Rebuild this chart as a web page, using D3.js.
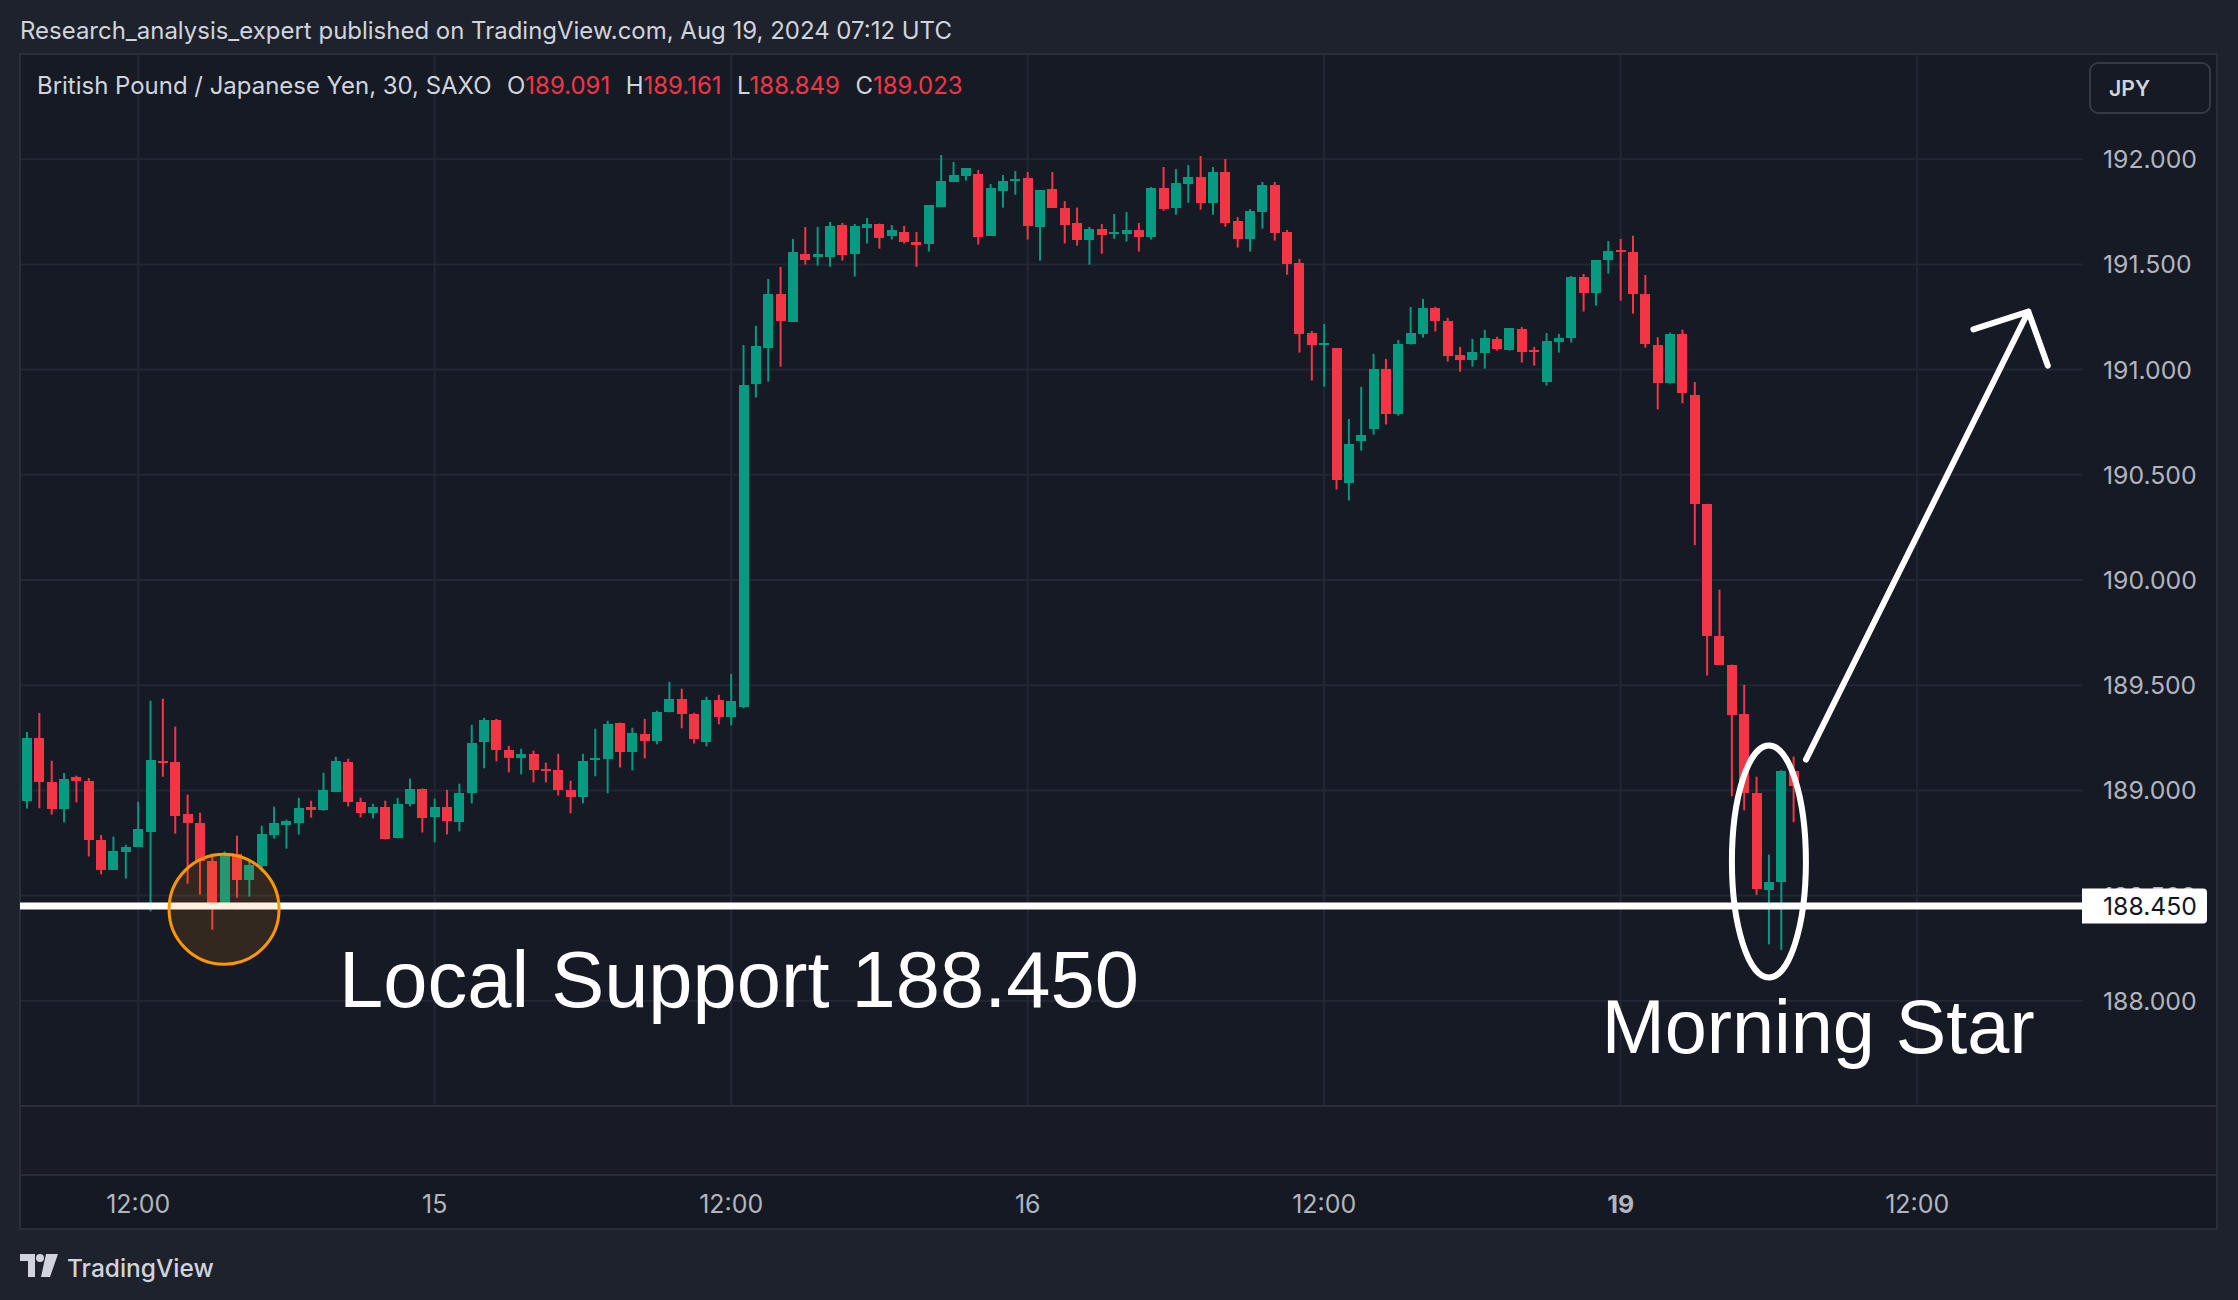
<!DOCTYPE html>
<html><head><meta charset="utf-8">
<script src="https://cdn.jsdelivr.net/npm/d3@7"></script>
<style>html,body{margin:0;padding:0;background:#1e222d;overflow:hidden}</style>
</head><body>
<svg id="chart" width="2238" height="1300"></svg>
<script>
// ---------------- DATA ----------------
const opens = [188.948,189.249,189.040,188.910,189.064,189.046,188.766,188.623,188.709,188.733,
188.800,189.141,189.136,188.889,188.847,188.666,188.457,188.699,188.576,188.642,
188.790,188.837,188.847,188.919,188.908,188.994,189.136,188.946,188.891,188.923,
188.772,188.933,189.008,188.872,188.923,188.848,188.986,189.228,189.336,189.193,
189.152,189.174,189.103,189.098,189.003,188.967,189.147,189.147,189.322,189.181,
189.269,189.233,189.371,189.436,189.364,189.228,189.431,189.347,189.398,190.933,
191.105,191.360,191.228,191.550,191.537,191.537,191.687,191.551,191.675,191.692,
191.637,191.654,191.607,191.599,191.774,191.893,191.922,191.930,191.637,191.850,
191.898,191.911,191.679,191.858,191.768,191.697,191.618,191.668,191.646,191.646,
191.664,191.632,191.863,191.770,191.884,191.915,191.793,191.939,191.706,191.622,
191.751,191.877,191.654,191.507,191.174,191.119,191.103,190.463,190.661,190.720,
191.003,190.791,191.124,191.171,191.293,191.231,191.070,191.048,191.081,191.146,
191.095,191.193,191.094,190.943,191.133,191.152,191.440,191.366,191.523,191.569,
191.560,191.360,191.118,190.934,191.170,190.880,190.360,189.735,189.598,189.365,
188.988,188.526,188.564,189.091];
const highs = [189.277,189.368,189.141,189.083,189.070,189.059,188.788,188.780,188.742,188.946,
189.426,189.436,189.303,188.980,188.894,188.699,188.709,188.785,188.671,188.832,
188.923,188.861,188.965,188.951,189.084,189.160,189.151,188.965,188.937,188.951,
188.965,189.056,189.010,188.961,189.003,189.032,189.312,189.345,189.340,189.212,
189.198,189.189,189.132,189.174,189.046,189.174,189.293,189.331,189.322,189.298,
189.340,189.379,189.516,189.483,189.369,189.445,189.455,189.554,191.117,191.208,
191.431,191.488,191.621,191.678,191.678,191.702,191.697,191.692,191.721,191.694,
191.687,191.683,191.654,191.782,192.020,191.987,191.958,191.949,191.882,191.925,
191.944,191.939,191.854,191.939,191.801,191.770,191.678,191.692,191.740,191.749,
191.697,191.868,191.963,191.953,191.972,192.015,191.963,192.001,191.725,191.763,
191.892,191.892,191.664,191.526,191.184,191.217,191.103,190.766,190.918,191.075,
191.051,191.141,191.298,191.336,191.298,191.246,191.108,191.146,191.189,191.156,
191.198,191.203,191.108,191.174,191.170,191.445,191.455,191.521,191.611,191.621,
191.636,191.450,191.154,191.176,191.190,190.941,190.362,189.954,189.598,189.502,
189.065,188.695,189.096,189.161];
const lows = [188.914,188.915,188.885,188.848,188.943,188.686,188.601,188.623,188.581,188.731,
188.425,189.065,188.794,188.557,188.505,188.338,188.440,188.490,188.495,188.614,
188.771,188.723,188.790,188.870,188.903,188.994,188.924,188.872,188.867,188.767,
188.772,188.924,188.800,188.753,188.791,188.805,188.938,189.105,189.138,189.086,
189.076,189.038,189.038,188.976,188.891,188.938,189.067,188.986,189.109,189.095,
189.152,189.219,189.371,189.295,189.223,189.209,189.314,189.309,189.390,190.867,
190.943,191.014,191.228,191.499,191.494,191.489,191.518,191.442,191.599,191.575,
191.618,191.599,191.489,191.561,191.774,191.893,191.898,191.594,191.637,191.770,
191.831,191.618,191.518,191.770,191.599,191.589,191.499,191.551,191.622,191.608,
191.561,191.618,191.755,191.736,191.793,191.760,191.736,191.679,191.580,191.561,
191.670,191.613,191.451,191.081,190.948,190.919,190.430,190.378,190.615,190.691,
190.739,190.781,191.119,191.152,191.181,191.038,190.990,191.014,191.005,191.090,
191.090,191.033,191.019,190.924,191.081,191.128,191.276,191.304,191.456,191.328,
191.266,191.104,190.811,190.934,190.840,190.165,189.546,189.596,188.972,188.905,
188.504,188.268,188.242,188.849];
const closes = [189.249,189.038,188.910,189.054,189.043,188.762,188.620,188.714,188.733,188.818,
189.146,189.128,188.880,188.843,188.663,188.457,188.690,188.576,188.647,188.794,
188.847,188.856,188.918,188.908,189.003,189.141,188.943,188.891,188.923,188.767,
188.937,189.008,188.867,188.923,188.853,188.989,189.227,189.336,189.190,189.152,
189.174,189.095,189.095,189.000,188.971,189.141,189.155,189.317,189.181,189.274,
189.233,189.374,189.436,189.361,189.242,189.431,189.347,189.426,190.927,191.113,
191.360,191.233,191.559,191.523,191.550,191.683,191.546,191.683,191.692,191.627,
191.664,191.608,191.594,191.782,191.896,191.925,191.958,191.632,191.863,191.896,
191.906,191.684,191.854,191.770,191.689,191.618,191.668,191.641,191.654,191.664,
191.632,191.863,191.765,191.887,191.915,191.793,191.939,191.698,191.622,191.754,
191.877,191.651,191.504,191.171,191.119,191.127,190.473,190.647,190.690,191.003,
190.791,191.122,191.174,191.293,191.233,191.067,191.048,191.084,191.151,191.100,
191.198,191.086,191.086,191.136,191.151,191.440,191.366,191.521,191.564,191.561,
191.358,191.120,190.934,191.170,190.887,190.360,189.733,189.596,189.356,188.986,
188.531,188.567,189.091,189.023];

const timeTickBars   = [9, 33, 57, 81, 105, 129, 153];
const timeTickLabels = ["12:00", "15", "12:00", "16", "12:00", "19", "12:00"];
const priceTicks = [188.0, 188.5, 189.0, 189.5, 190.0, 190.5, 191.0, 191.5, 192.0];
const supportLevel = 188.450;
const titleText = "Research_analysis_expert published on TradingView.com, Aug 19, 2024 07:12 UTC";
const symbolText = "British Pound / Japanese Yen, 30, SAXO";
const currencyText = "JPY";
const supportText = "Local Support 188.450";
const patternText = "Morning Star";

// annotation anchors in (bar index, price)
const circleAnchor  = {bar: 15.95, price: 188.435};
const ellipseAnchor = {bar: 141.0, price: 188.662};
const arrowPoints = {start: {bar: 144.0, price: 189.146}, tip: {bar: 162.0, price: 191.276},
                     left: {bar: 157.55, price: 191.191}, right: {bar: 163.57, price: 191.019}};
const supportTextAnchor = {bar: 25.26, price: 187.969};
const patternTextAnchor = {bar: 127.46, price: 187.752};

// ---------------- LAYOUT ----------------
const W = 2238, H = 1300;
const pane = {left: 20, top: 54, right: 2083, bottom: 1106};
const frameRight = 2217, lowerBottom = 1175, axisBottom = 1229;
const UP = "#089981", DOWN = "#f23645";
const UI_FONT = "Inter, 'Noto Sans', sans-serif";
const BIG_FONT = "'Liberation Sans', Arial, sans-serif";
const GRID = "#232734";

const svg = d3.select("#chart");
const n = opens.length;
const barStep = 12.354;
const x = d3.scaleLinear().domain([0, n - 1]).range([27, 27 + (n - 1) * barStep]);
const y = d3.scaleLinear().domain([187.5, 192.5]).range([pane.bottom, pane.top]);

function fitWidth(sel, target) {
  const w = sel.node().getBBox().width;
  const fs = parseFloat(sel.attr("font-size"));
  sel.attr("font-size", fs * target / w);
  return fs * target / w;
}

// backgrounds
svg.append("rect").attr("width", W).attr("height", H).attr("fill", "#1e222d");
svg.append("rect").attr("x", pane.left).attr("y", pane.top)
  .attr("width", frameRight - pane.left).attr("height", axisBottom - pane.top).attr("fill", "#161a25");
svg.append("rect").attr("x", pane.left).attr("y", pane.bottom)
  .attr("width", frameRight - pane.left).attr("height", lowerBottom - pane.bottom).attr("fill", "#181b26");
svg.append("rect").attr("x", pane.left).attr("y", lowerBottom)
  .attr("width", frameRight - pane.left).attr("height", axisBottom - lowerBottom).attr("fill", "#151924");

// grid
const grid = svg.append("g");
grid.selectAll("line.v").data(timeTickBars).join("line")
  .attr("x1", d => x(d)).attr("x2", d => x(d))
  .attr("y1", pane.top).attr("y2", pane.bottom)
  .attr("stroke", GRID).attr("stroke-width", 2);
grid.selectAll("line.h").data(priceTicks).join("line")
  .attr("x1", pane.left).attr("x2", pane.right)
  .attr("y1", d => y(d)).attr("y2", d => y(d))
  .attr("stroke", GRID).attr("stroke-width", 2);

// frame lines
const frame = svg.append("g").attr("stroke", "#2a2e39").attr("stroke-width", 2).attr("fill", "none");
frame.append("rect").attr("x", pane.left).attr("y", pane.top)
  .attr("width", frameRight - pane.left).attr("height", axisBottom - pane.top);
frame.append("line").attr("x1", pane.left).attr("x2", frameRight).attr("y1", pane.bottom).attr("y2", pane.bottom);
frame.append("line").attr("x1", pane.left).attr("x2", frameRight).attr("y1", lowerBottom).attr("y2", lowerBottom);

// candles
const bars = d3.range(n).map(i => ({i, o: opens[i], h: highs[i], l: lows[i], c: closes[i]}));
const cg = svg.append("g");
cg.selectAll("line.wick").data(bars).join("line")
  .attr("x1", d => x(d.i)).attr("x2", d => x(d.i))
  .attr("y1", d => y(d.h)).attr("y2", d => y(d.l))
  .attr("stroke", d => d.c >= d.o ? UP : DOWN).attr("stroke-width", 2);
cg.selectAll("rect.body").data(bars).join("rect")
  .attr("x", d => x(d.i) - 5).attr("width", 10)
  .attr("y", d => y(Math.max(d.o, d.c)))
  .attr("height", d => Math.max(2, Math.abs(y(d.o) - y(d.c))))
  .attr("fill", d => d.c >= d.o ? UP : DOWN)
  .attr("shape-rendering", "crispEdges");

// support line
svg.append("line").attr("x1", pane.left).attr("x2", pane.right)
  .attr("y1", y(supportLevel)).attr("y2", y(supportLevel))
  .attr("stroke", "#ffffff").attr("stroke-width", 7);

// orange circle
svg.append("circle").attr("cx", x(circleAnchor.bar)).attr("cy", y(circleAnchor.price)).attr("r", 55)
  .attr("fill", "rgba(255,152,0,0.12)").attr("stroke", "#ff9800").attr("stroke-width", 3);

// ellipse
svg.append("ellipse").attr("cx", x(ellipseAnchor.bar)).attr("cy", y(ellipseAnchor.price))
  .attr("rx", 37).attr("ry", 116).attr("fill", "none").attr("stroke", "#ffffff").attr("stroke-width", 6);

// arrow
const P = p => [x(p.bar), y(p.price)];
svg.append("path")
  .attr("d", d3.line()([P(arrowPoints.start), P(arrowPoints.tip)]) + " " +
             d3.line()([P(arrowPoints.left), P(arrowPoints.tip), P(arrowPoints.right)]))
  .attr("fill", "none").attr("stroke", "#ffffff").attr("stroke-width", 6)
  .attr("stroke-linecap", "round").attr("stroke-linejoin", "round");

// big annotation texts
const t1 = svg.append("text").attr("x", x(supportTextAnchor.bar)).attr("y", y(supportTextAnchor.price))
  .attr("font-family", BIG_FONT).attr("font-size", 79).attr("fill", "#ffffff").text(supportText);
fitWidth(t1, 800);
const t2 = svg.append("text").attr("x", x(patternTextAnchor.bar)).attr("y", y(patternTextAnchor.price))
  .attr("font-family", BIG_FONT).attr("font-size", 79).attr("fill", "#ffffff").text(patternText);
fitWidth(t2, 433);

// price axis labels
const pl = svg.append("g");
const probe = pl.append("text").attr("font-family", UI_FONT).attr("font-size", 24).text("192.000");
const priceFs = fitWidth(probe, 94);
probe.remove();
pl.selectAll("text").data(priceTicks).join("text")
  .attr("x", 2103).attr("y", d => y(d)).attr("dy", "0.36em")
  .attr("font-family", UI_FONT).attr("font-size", priceFs).attr("fill", "#b2b5be")
  .text(d => d3.format(".3f")(d));

// current support price label
const sy = y(supportLevel);
svg.append("path")
  .attr("d", `M2082,${sy - 17.5} H2203 a4,4 0 0 1 4,4 V${sy + 13.5} a4,4 0 0 1 -4,4 H2082 Z`)
  .attr("fill", "#ffffff");
svg.append("text").attr("x", 2103).attr("y", sy).attr("dy", "0.36em")
  .attr("font-family", UI_FONT).attr("font-size", priceFs).attr("fill", "#131722")
  .text(d3.format(".3f")(supportLevel));

// JPY button
svg.append("rect").attr("x", 2090).attr("y", 63).attr("width", 120).attr("height", 50).attr("rx", 8)
  .attr("fill", "none").attr("stroke", "#363a45").attr("stroke-width", 2);
const jt = svg.append("text").attr("x", 2109).attr("y", 88).attr("dy", "0.36em")
  .attr("font-family", UI_FONT).attr("font-size", 20).attr("font-weight", 600).attr("fill", "#d1d4dc")
  .text(currencyText);
fitWidth(jt, 41);

// time axis labels
const tp = svg.append("text").attr("font-family", UI_FONT).attr("font-size", 24).text("12:00");
const timeFs = fitWidth(tp, 64);
tp.remove();
svg.append("g").selectAll("text").data(timeTickBars).join("text")
  .attr("x", d => x(d)).attr("y", 1213).attr("text-anchor", "middle")
  .attr("font-family", UI_FONT).attr("font-size", timeFs)
  .attr("font-weight", (d, i) => timeTickLabels[i] === "19" ? 700 : 400)
  .attr("fill", "#b2b5be")
  .text((d, i) => timeTickLabels[i]);

// header title
const tt = svg.append("text").attr("x", 20).attr("y", 39)
  .attr("font-family", UI_FONT).attr("font-size", 22).attr("fill", "#d1d4dc").text(titleText);
fitWidth(tt, 932);

// legend
const last = n - 1;
const fmt = d3.format(".3f");
const lg = svg.append("text").attr("x", 37).attr("y", 94)
  .attr("font-family", UI_FONT).attr("font-size", 24).attr("fill", "#d1d4dc");
lg.append("tspan").text(symbolText);
[["O", opens[last]], ["H", highs[last]], ["L", lows[last]], ["C", closes[last]]].forEach(([k, v]) => {
  lg.append("tspan").attr("dx", "0.65em").attr("fill", "#d1d4dc").text(k);
  lg.append("tspan").attr("fill", DOWN).text(fmt(v));
});
fitWidth(lg, 926);

// TradingView logo
const logo = svg.append("g").attr("fill", "#d1d4dc");
logo.append("path").attr("d", "M20,1254 H35 V1277 H28 V1261 H20 Z");
logo.append("circle").attr("cx", 40).attr("cy", 1258).attr("r", 4);
logo.append("path").attr("d", "M46,1254 H58 L50,1277 H41 Z");
const lt = svg.append("text").attr("x", 67).attr("y", 1277)
  .attr("font-family", UI_FONT).attr("font-size", 25).attr("font-weight", 500).attr("fill", "#d1d4dc")
  .text("TradingView");
fitWidth(lt, 147);
</script>
</body></html>
